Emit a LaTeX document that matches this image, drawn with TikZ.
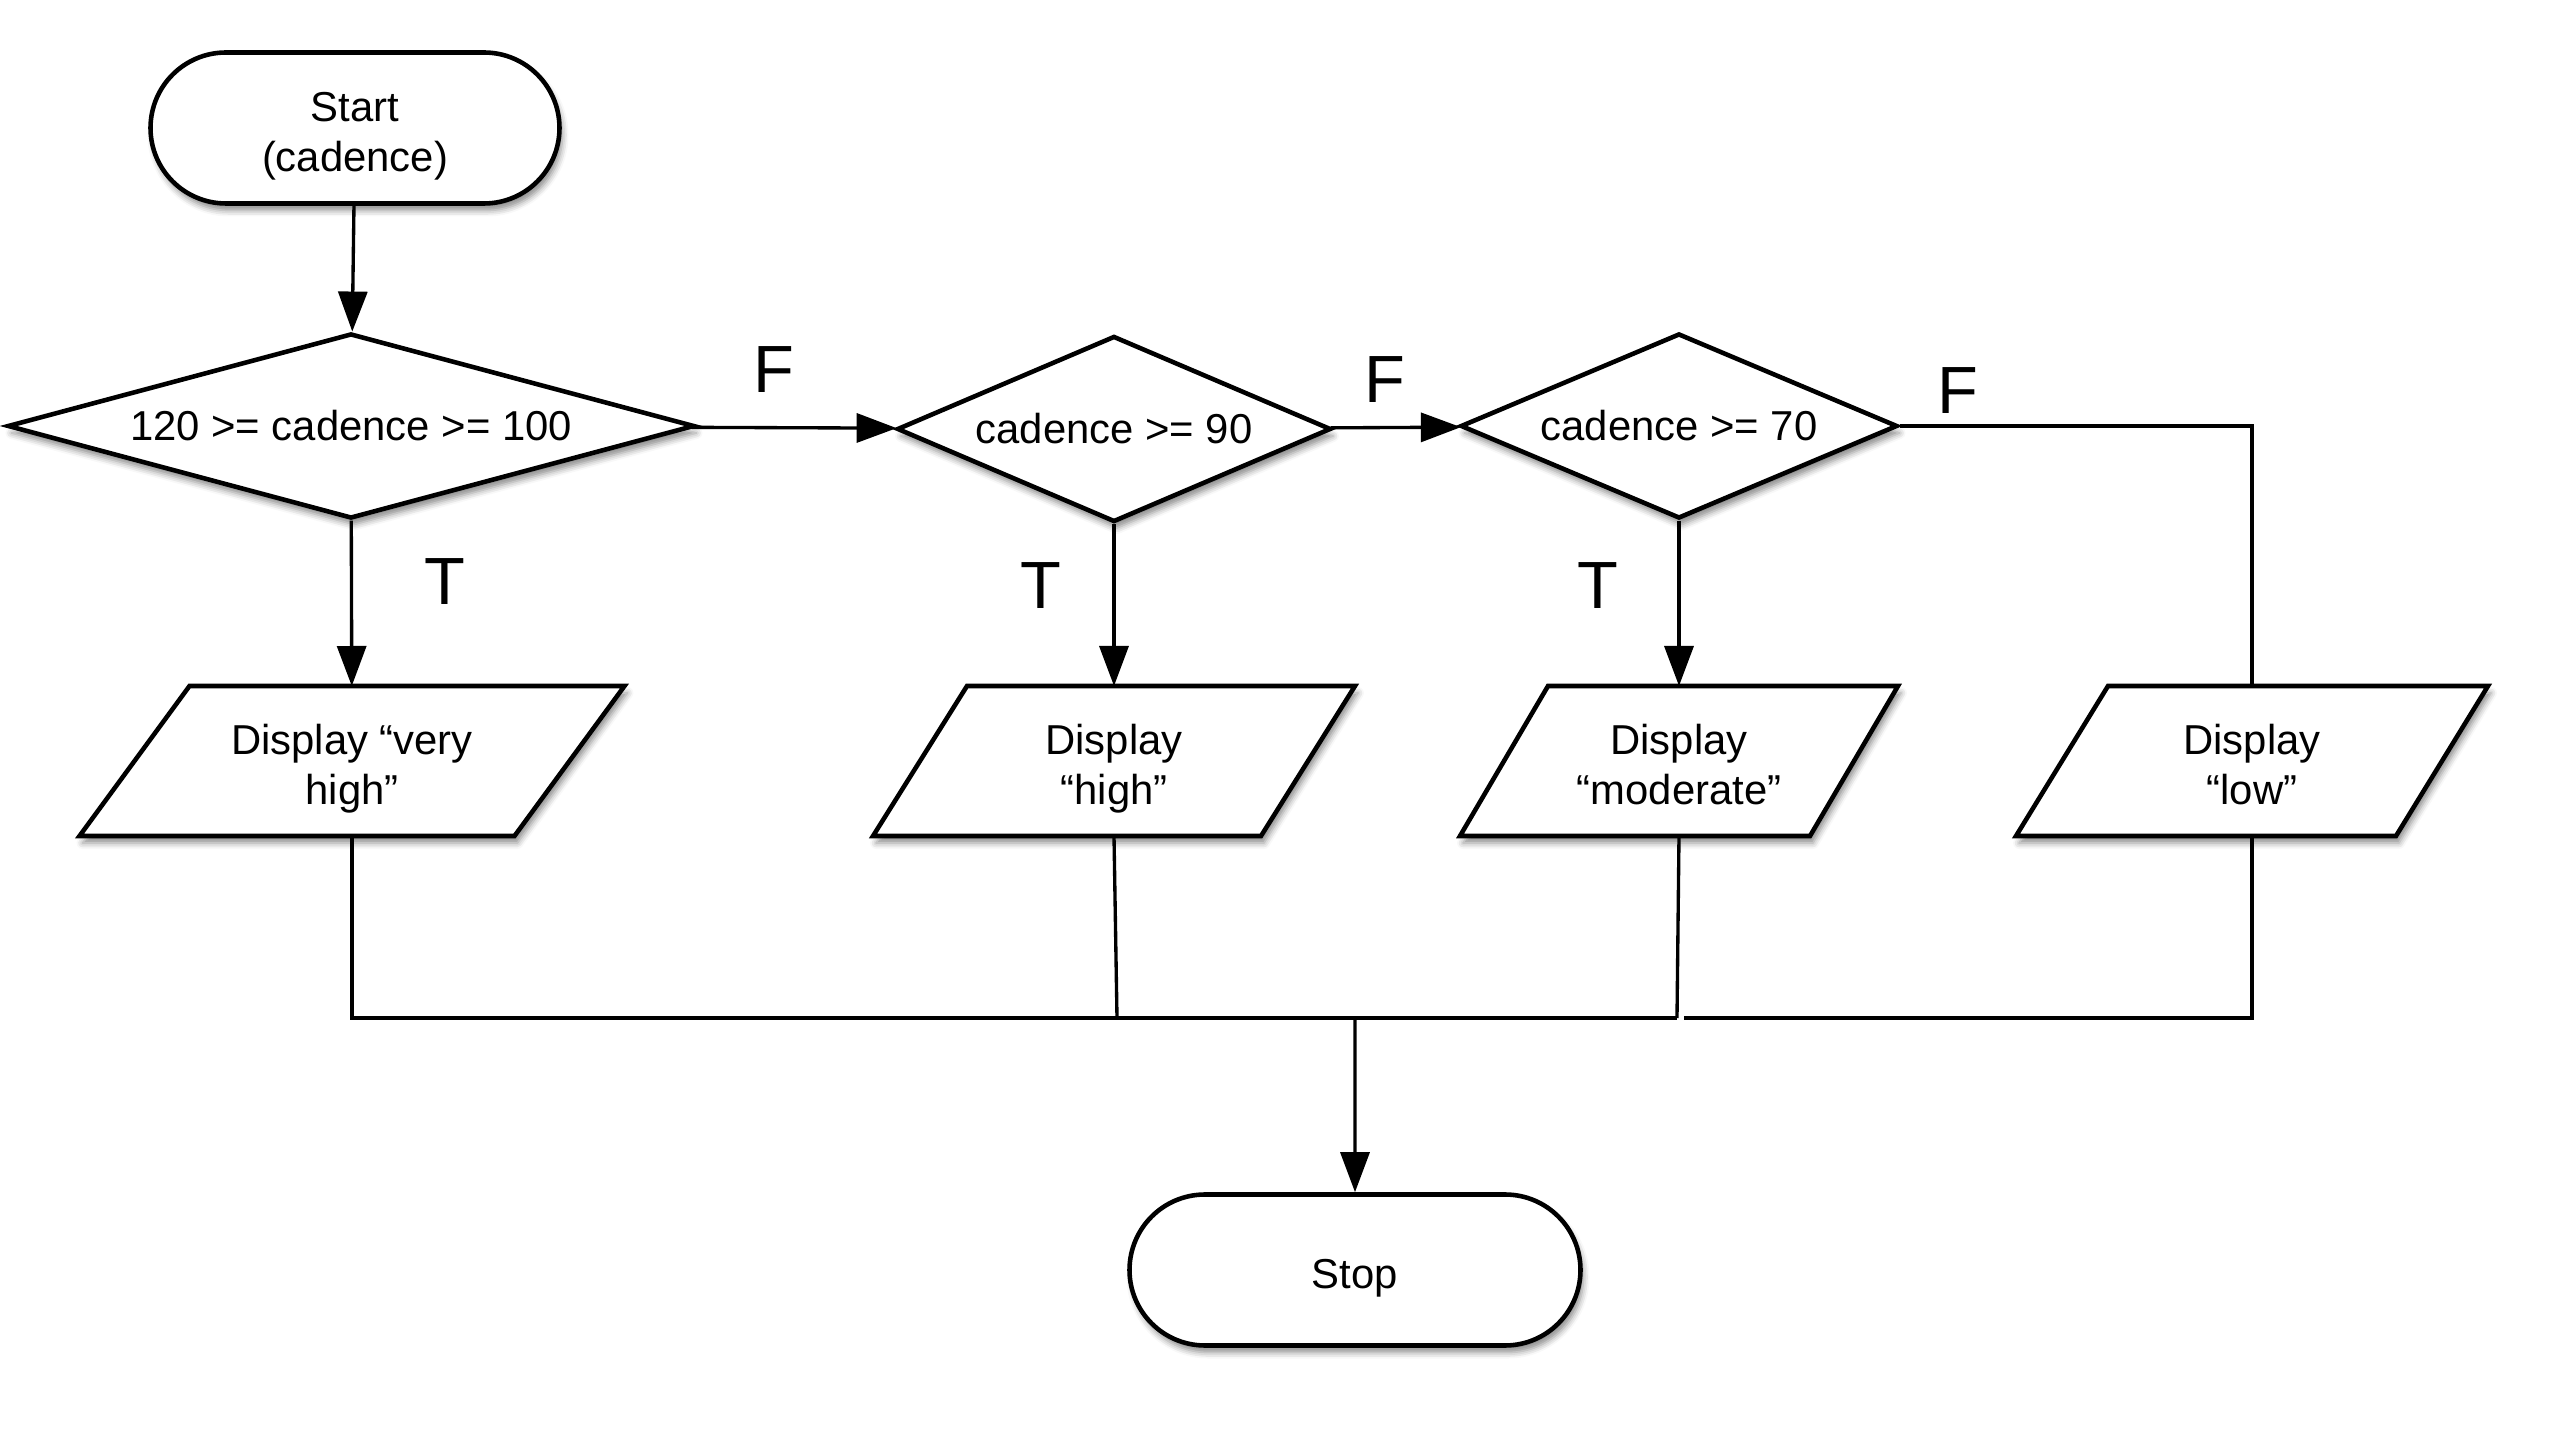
\documentclass[tikz,border=0pt]{standalone}
\usepackage{fontspec}
\setmainfont{Liberation Sans}
\usetikzlibrary{shapes.geometric,shapes.misc,arrows.meta,shadows.blur}
\pgfdeclarelayer{bg}
\pgfsetlayers{bg,main}
\newcommand\lowr[1]{\raisebox{-0.85mm}[\height][\depth]{\begin{tabular}{@{}c@{}}#1\end{tabular}}}
\tikzset{
  txt/.style={font=\fontsize{11.9pt}{14.2pt}\selectfont, align=center},
  shp/.style={draw=black, line width=1.3pt, fill=white,
    blur shadow={shadow xshift=0.3mm, shadow yshift=-0.7mm, shadow blur radius=0.6mm, shadow opacity=45}},
  term/.style={shp, txt, rounded rectangle, minimum height=15.1mm, inner sep=0pt},
  dec/.style={shp, txt, diamond, inner sep=0pt},
  iobox/.style={txt, rectangle, draw=none, minimum height=15mm, inner sep=0pt, outer sep=0pt},
  lbl/.style={font=\fontsize{19pt}{22pt}\selectfont, inner sep=0pt},
  conn/.style={line width=0.95pt, draw=black},
  arr/.style={conn, -{Triangle[length=4mm, width=2.9mm]}},
}
\newcommand\drawpara[2]{%
  \begin{pgfonlayer}{bg}
    \path[shp] ([xshift=#2]#1.north west) -- ([xshift=#2]#1.north east)
      -- ([xshift=-#2]#1.south east) -- ([xshift=-#2]#1.south west) -- cycle;
  \end{pgfonlayer}}
\begin{document}
\begin{tikzpicture}[x=0.1mm, y=-0.1mm]
\useasboundingbox (0,0) rectangle (2554,1440);

% terminals
\node[term, minimum width=40.9mm] (start) at (355,128) {\lowr{Start\\(cadence)}};
\node[term, minimum width=45.1mm] (stop) at (1355,1270) {\lowr{Stop}};

% decisions
\node[dec, minimum width=68.7mm, minimum height=18.5mm, aspect=3.7] (d1) at (351,426) {120 >= cadence >= 100};
\node[dec, minimum width=43.4mm, minimum height=18.6mm, aspect=2.33] (d2) at (1114,429) {cadence >= 90};
\node[dec, minimum width=43.7mm, minimum height=18.5mm, aspect=2.36] (d3) at (1679,426) {cadence >= 70};

% input/output
\node[iobox, minimum width=43.5mm] (p1) at (352,761) {\lowr{Display “very\\high”}};
\node[iobox, minimum width=38.8mm] (p2) at (1114,761) {\lowr{Display\\“high”}};
\node[iobox, minimum width=35.0mm] (p3) at (1679,761) {\lowr{Display\\“moderate”}};
\node[iobox, minimum width=38.0mm] (p4) at (2252,761) {\lowr{Display\\“low”}};
\drawpara{p1}{5.5mm}
\drawpara{p2}{4.7mm}
\drawpara{p3}{4.4mm}
\drawpara{p4}{4.6mm}

% labels
\node[lbl] (f1) at (774,370) {F};
\node[lbl] (f2) at (1385,380) {F};
\node[lbl] (f3) at (1958,391) {F};
\node[lbl] (t1) at (445,582) {T};
\node[lbl] (t2) at (1041,586) {T};
\node[lbl] (t3) at (1598,586) {T};

% bus coordinates
\coordinate (b2) at (1117,1018);
\coordinate (b3) at (1677,1018);
\coordinate (b3r) at (1684,1018);
\coordinate (bs) at (1355,1018);

% connectors
\draw[arr] (start) -- (d1);
\draw[arr] (d1) -- (d2);
\draw[arr] (d2) -- (d3);
\draw[arr] (d1) -- (p1);
\draw[arr] (d2) -- (p2);
\draw[arr] (d3) -- (p3);
\draw[conn] (d3.east) -| (p4.north);
\draw[conn] (p1.south) |- (b3);
\draw[conn] (p2.south) -- (b2);
\draw[conn] (p3.south) -- (b3);
\draw[conn] (p4.south) |- (b3r);
\draw[arr] (bs) -- (stop);
\end{tikzpicture}
\end{document}
